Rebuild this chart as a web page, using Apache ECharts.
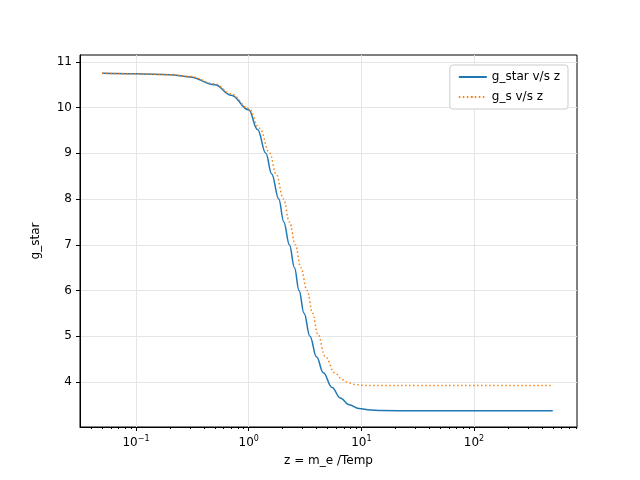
<!DOCTYPE html>
<html><head><meta charset="utf-8">
<script src="https://cdn.jsdelivr.net/npm/echarts@6/dist/echarts.min.js"></script>
<style>html,body{margin:0;padding:0;background:#fff}#c{width:640px;height:480px}</style>
</head><body><div id="c"></div>
<script>
// z values (m_e/Temp) and read values
const zStar = [0.05,0.1,0.2,0.3,0.5,0.7,1.0,1.2,1.42,1.6,1.85,2.05,2.3,2.55,2.8,3.1,3.5,4.0,4.6,5.5,6.5,7.8,9.5,12,15,30,100,500];
const gStar = [10.75,10.74,10.72,10.67,10.5,10.27,9.95,9.52,9.0,8.55,8.0,7.5,7.0,6.5,6.0,5.5,5.0,4.55,4.2,3.88,3.65,3.5,3.42,3.385,3.375,3.37,3.37,3.37];
const zS = [0.05,0.1,0.2,0.3,0.5,0.7,1.0,1.25,1.54,1.75,2.04,2.3,2.6,2.9,3.3,3.7,4.1,4.8,5.8,6.8,7.7,9.0,10.5,15,30,100,500];
const gS = [10.75,10.74,10.72,10.68,10.52,10.3,9.98,9.55,9.0,8.55,8.0,7.5,7.0,6.5,6.0,5.5,5.05,4.55,4.2,4.05,3.98,3.94,3.925,3.92,3.92,3.92,3.92];
const xMajor = [-1,0,1,2];
const yTicks = [4,5,6,7,8,9,10,11];
const supMap = {'-1':'−1','0':'0','1':'1','2':'2'};
const minor = [];
for (let d=-2; d<3; d++) for (let k=2;k<10;k++){const v=d+Math.log10(k); if(v>-1.497&&v<2.914) minor.push(v);}
const toPts=(z,g)=>z.map((v,i)=>[Math.log10(v),g[i]]);
const font='DejaVu Sans';
const chart=echarts.init(document.getElementById('c'));
chart.setOption({
  animation:false,
  textStyle:{fontFamily:font},
  grid:{left:80,right:63,top:55,bottom:53,show:true,borderColor:'#000',borderWidth:1},
  legend:{top:65,right:72,orient:'vertical',itemWidth:28,itemHeight:2,itemGap:8,
    backgroundColor:'#fff',borderColor:'#ccc',borderWidth:1,borderRadius:3,padding:[6,8],
    textStyle:{fontSize:12,color:'#000',fontFamily:font}},
  xAxis:[{type:'value',min:-1.497,max:2.914,name:'z = m_e /Temp',nameLocation:'middle',nameGap:28,
    nameTextStyle:{color:'#000',fontSize:12},
    axisLine:{onZero:false,lineStyle:{color:'#000'}},
    axisTick:{customValues:xMajor,length:4,inside:false,lineStyle:{color:'#000'}},
    axisLabel:{customValues:xMajor,color:'#000',fontSize:12,
      formatter:v=>'10{s|'+supMap[String(Math.round(v))]+'}',
      rich:{s:{fontSize:8,verticalAlign:'top',padding:[0,0,8,0],color:'#000'}}},
    splitLine:{show:true,lineStyle:{color:'#e5e5e5'}}},
   {type:'value',min:-1.497,max:2.914,position:'bottom',show:true,
    axisLine:{show:false,onZero:false},axisLabel:{show:false},splitLine:{show:false},
    axisTick:{customValues:minor,length:2,lineStyle:{color:'#000'}}}],
  yAxis:{type:'value',min:3.015,max:11.15,name:'g_star',nameLocation:'middle',nameGap:38,
    nameTextStyle:{color:'#000',fontSize:12},
    axisLine:{show:true,onZero:false,lineStyle:{color:'#000'}},
    axisTick:{show:true,customValues:yTicks,length:4,lineStyle:{color:'#000'}},
    axisLabel:{customValues:yTicks,color:'#000',fontSize:12},
    splitLine:{show:true,lineStyle:{color:'#e5e5e5'}}},
  series:[
    {name:'g_star v/s z',type:'line',data:toPts(zStar,gStar),smooth:0.4,smoothMonotone:'x',symbol:'none',
     lineStyle:{color:'#1f77b4',width:1.5},itemStyle:{color:'#1f77b4'}},
    {name:'g_s v/s z',type:'line',data:toPts(zS,gS),smooth:0.4,smoothMonotone:'x',symbol:'none',
     lineStyle:{color:'#ff7f0e',width:1.5,type:[1.5,2.5]},itemStyle:{color:'#ff7f0e'}}
  ]
});
</script></body></html>
